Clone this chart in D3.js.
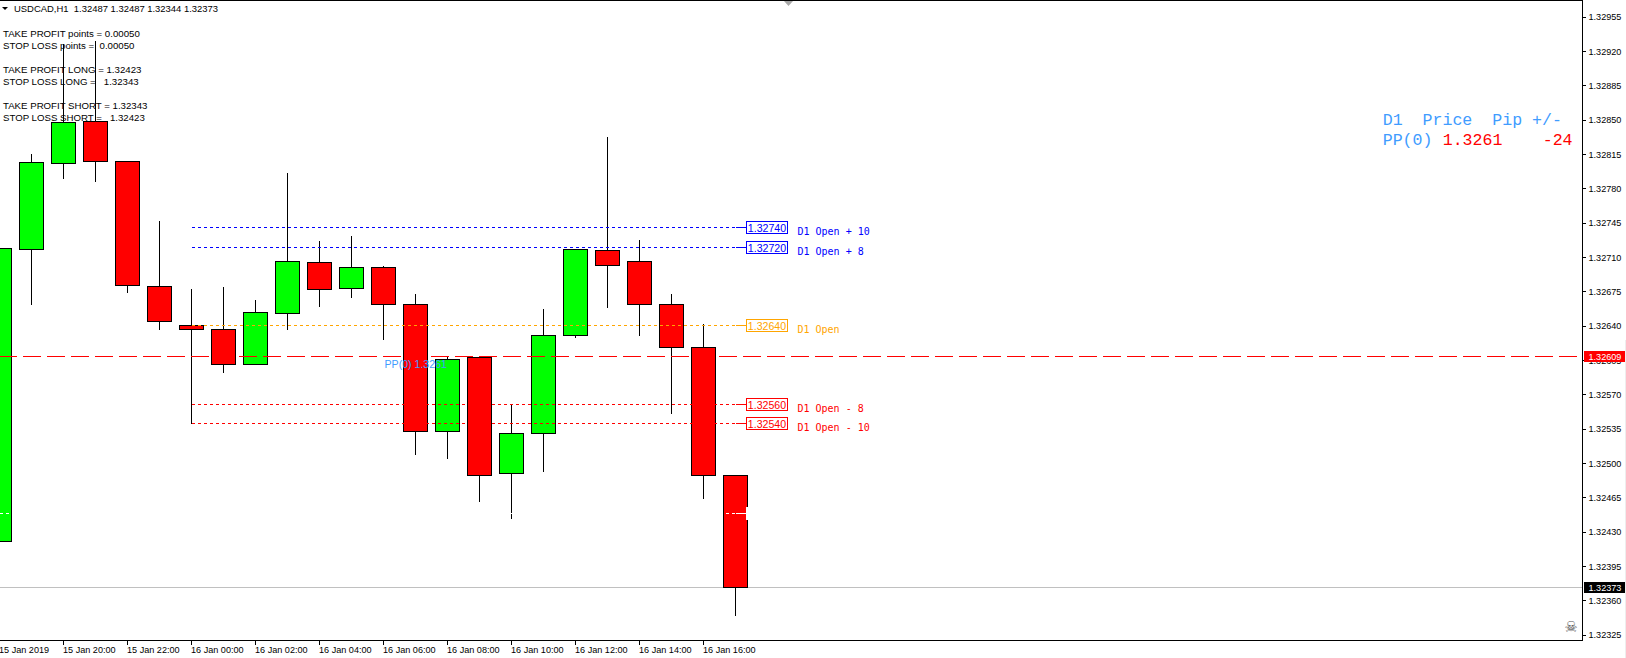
<!DOCTYPE html>
<html>
<head>
<meta charset="utf-8">
<script src="https://cdn.jsdelivr.net/npm/d3@7/dist/d3.min.js"></script>
<style>
html,body{margin:0;padding:0;background:#fff;overflow:hidden}
svg{display:block}
text{white-space:pre}
.axis path{display:none}
.axis line{stroke:#000;shape-rendering:crispEdges}
.axis text{font-family:"Liberation Sans",sans-serif;font-size:9.1px;fill:#000}
</style>
</head>
<body>
<svg id="c" width="1626" height="658"></svg>
<script>
// ---- data ----
const times = ["15 Jan 18:00","15 Jan 19:00","15 Jan 20:00","15 Jan 21:00","15 Jan 22:00","15 Jan 23:00",
  "16 Jan 00:00","16 Jan 01:00","16 Jan 02:00","16 Jan 03:00","16 Jan 04:00","16 Jan 05:00",
  "16 Jan 06:00","16 Jan 07:00","16 Jan 08:00","16 Jan 09:00","16 Jan 10:00","16 Jan 11:00",
  "16 Jan 12:00","16 Jan 13:00","16 Jan 14:00","16 Jan 15:00","16 Jan 16:00","16 Jan 17:00"];
const opens  = [1.32420,1.32718,1.32805,1.32848,1.32807,1.32680,1.32640,1.32636,1.32600,1.32652,1.32704,1.32678,
                1.32699,1.32661,1.32532,1.32607,1.32489,1.32530,1.32630,1.32717,1.32705,1.32662,1.32618,1.32487];
const highs  = [1.32719,1.32815,1.32928,1.32931,1.32807,1.32747,1.32678,1.32680,1.32667,1.32796,1.32727,1.32732,
                1.32701,1.32673,1.32609,1.32610,1.32561,1.32657,1.32718,1.32833,1.32728,1.32673,1.32642,1.32487];
const lows   = [1.32420,1.32661,1.32790,1.32787,1.32674,1.32636,1.32540,1.32592,1.32600,1.32636,1.32659,1.32669,
                1.32626,1.32509,1.32505,1.32461,1.32443,1.32491,1.32628,1.32658,1.32630,1.32550,1.32464,1.32344];
const closes = [1.32719,1.32806,1.32847,1.32807,1.32681,1.32644,1.32636,1.32600,1.32653,1.32705,1.32677,1.32699,
                1.32662,1.32532,1.32605,1.32487,1.32530,1.32630,1.32718,1.32701,1.32662,1.32618,1.32487,1.32373];
const priceTicks = [1.32955,1.32920,1.32885,1.32850,1.32815,1.32780,1.32745,1.32710,1.32675,1.32640,
                    1.32605,1.32570,1.32535,1.32500,1.32465,1.32430,1.32395,1.32360,1.32325];
const timeTicks = ["15 Jan 18:00","15 Jan 20:00","15 Jan 22:00","16 Jan 00:00","16 Jan 02:00","16 Jan 04:00",
                   "16 Jan 06:00","16 Jan 08:00","16 Jan 10:00","16 Jan 12:00","16 Jan 14:00","16 Jan 16:00"];
const timeTickLabels = ["15 Jan 2019","15 Jan 20:00","15 Jan 22:00","16 Jan 00:00","16 Jan 02:00","16 Jan 04:00",
                   "16 Jan 06:00","16 Jan 08:00","16 Jan 10:00","16 Jan 12:00","16 Jan 14:00","16 Jan 16:00"];
const levelPrices = [1.32740,1.32720,1.32640,1.32560,1.32540];
const levelNames  = ["D1 Open + 10","D1 Open + 8","D1 Open","D1 Open - 8","D1 Open - 10"];
const pivotPrice = 1.32609;
const lastPrice = 1.32373;
const hiddenLevel = 1.32448;
const levelStart = "16 Jan 00:00";
const levelEnd = "16 Jan 17:00";
const headerText = "USDCAD,H1  1.32487 1.32487 1.32344 1.32373";
const noteLines = ["TAKE PROFIT points = 0.00050","STOP LOSS points =  0.00050","",
  "TAKE PROFIT LONG = 1.32423","STOP LOSS LONG =   1.32343","",
  "TAKE PROFIT SHORT = 1.32343","STOP LOSS SHORT =   1.32423"];
const panelHeader = "D1  Price  Pip +/-";
const panelName = "PP(0)";
const panelPrice = "1.3261";
const panelPips = "-24";
const pivotTag = "PP(0) 1.3261";

// ---- styles and layout ----
const levelColor = ["#0000ff","#0000ff","#ffa500","#ff0000","#ff0000"];
const UP="#00ff00", DOWN="#ff0000", BLUE="#3f9cff";
const UI='"Liberation Sans",sans-serif', MONO='"DejaVu Sans Mono",monospace';
const frameRight=1582.5, frameBottom=640.5;
const svg=d3.select("#c");

const x=d3.scalePoint().domain(times).range([-0.5,735.5]);
const y=d3.scaleLinear().domain([1.32955,1.32325]).range([16.6,634.6]);
const py=v=>Math.round(y(v)-0.5)+0.5;
const halfBody=12;

const candles=times.map((t,i)=>({t,o:opens[i],h:highs[i],l:lows[i],c:closes[i]}));

const line=(sel,x1,x2,yy,color,dash)=>sel.append("line").attr("x1",x1).attr("x2",x2).attr("y1",yy).attr("y2",yy)
   .attr("stroke",color).attr("stroke-width",1).attr("stroke-dasharray",dash||null).attr("shape-rendering","crispEdges");

line(svg,0,frameRight,py(lastPrice),"#c0c0c0");

const g=svg.append("g").attr("shape-rendering","crispEdges");
g.selectAll("line.wick").data(candles).join("line").attr("class","wick")
  .attr("x1",d=>x(d.t)).attr("x2",d=>x(d.t)).attr("y1",d=>py(d.h)).attr("y2",d=>py(d.l)+0.5)
  .attr("stroke","#000");
g.selectAll("rect.body").data(candles).join("rect").attr("class","body")
  .attr("x",d=>x(d.t)-halfBody).attr("width",halfBody*2)
  .attr("y",d=>py(Math.max(d.o,d.c))).attr("height",d=>py(Math.min(d.o,d.c))-py(Math.max(d.o,d.c)))
  .attr("fill",d=>d.c>=d.o?UP:DOWN).attr("stroke","#000");

line(svg,0,x(levelEnd),py(hiddenLevel),"#fff","3,3");
line(svg,x(levelEnd),746.5,py(hiddenLevel),"#fff");
svg.append("rect").attr("x",746.5).attr("width",41).attr("y",py(hiddenLevel)-6).attr("height",12)
   .attr("fill","#fff").attr("stroke","#fff").attr("shape-rendering","crispEdges");

line(svg,-1,frameRight,py(pivotPrice),"#ff0000","18,6");

levelPrices.forEach((p,i)=>{
  const c=levelColor[i], yy=py(p);
  line(svg,x(levelStart),x(levelEnd),yy,c,"3,3");
  line(svg,x(levelEnd),746.5,yy,c);
  svg.append("rect").attr("x",746.5).attr("y",yy-6).attr("width",41).attr("height",12)
     .attr("fill","#fff").attr("stroke",c).attr("shape-rendering","crispEdges");
  svg.append("text").attr("x",767).attr("y",yy+0.5).attr("text-anchor","middle").attr("dominant-baseline","central")
     .attr("font-family",UI).attr("font-size",10.6).attr("fill",c).text(d3.format(".5f")(p));
  svg.append("text").attr("x",797.5).attr("y",yy+3.5).attr("dominant-baseline","central")
     .attr("font-family",MONO).attr("font-size",10).attr("fill",c).text(levelNames[i]);
});

svg.append("text").attr("x",384.5).attr("y",363.5).attr("dominant-baseline","central")
   .attr("font-family",UI).attr("font-size",10.6).attr("fill",BLUE).text(pivotTag);

line(svg,0,frameRight+0.5,0.5,"#000");
line(svg,0,frameRight+0.5,frameBottom,"#000");
svg.append("line").attr("x1",frameRight).attr("x2",frameRight).attr("y1",0).attr("y2",frameBottom+0.5)
   .attr("stroke","#000").attr("shape-rendering","crispEdges");

const yAxis=d3.axisRight(y).tickValues(priceTicks).tickFormat(d3.format(".5f")).tickSize(3).tickPadding(3).offset(0.5);
const ya=svg.append("g").attr("class","axis").attr("transform",`translate(${frameRight},0)`).call(yAxis);
ya.selectAll("text").attr("font-size",null).attr("dy","0.34em");

const xAxis=d3.axisBottom(x).tickValues(timeTicks).tickFormat(d=>timeTickLabels[timeTicks.indexOf(d)]).tickSize(4).tickPadding(2.5).offset(0);
const xa=svg.append("g").attr("class","axis").attr("transform",`translate(0,${frameBottom})`).call(xAxis);
xa.selectAll("text").attr("text-anchor","start").attr("x",-0.5).attr("dy","0.71em");

[[pivotPrice,"#ff0000"],[lastPrice,"#000"]].forEach(([p,c])=>{
  const yy=py(p);
  svg.append("rect").attr("x",1584).attr("y",yy-5.5).attr("width",41).attr("height",11).attr("fill",c);
  svg.append("text").attr("x",1588.5).attr("y",yy+0.2).attr("dominant-baseline","central")
     .attr("font-family",UI).attr("font-size",9.1).attr("fill","#fff").text(d3.format(".5f")(p));
});

svg.append("path").attr("d",d3.line()([[2,7],[8,7],[5,10]])+"Z").attr("fill","#000");
svg.append("text").attr("x",14).attr("y",8.3).attr("dominant-baseline","central")
   .attr("font-family",UI).attr("font-size",9.45).attr("fill","#000").text(headerText);
noteLines.forEach((s,i)=>{
  svg.append("text").attr("x",3).attr("y",33.5+i*12).attr("dominant-baseline","central")
     .attr("font-family",UI).attr("font-size",9.67).attr("fill","#000").text(s);
});

const panel=(s,x0,yy,c)=>svg.append("text").attr("x",x0).attr("y",yy).attr("dominant-baseline","central")
   .attr("font-family",'"Liberation Mono",monospace').attr("font-size",16.6).attr("fill",c).text(s);
panel(panelHeader,1382.7,120.5,BLUE);
panel(panelName,1382.7,140.5,BLUE);
panel(panelPrice,1442.7,140.5,"#ff0000");
panel(panelPips,1542.7,140.5,"#ff0000");

svg.append("path").attr("d",d3.line()([[784,1],[793,1],[788.5,6]])+"Z").attr("fill","#a8a8a8");
svg.append("text").attr("x",1571).attr("y",626.5).attr("text-anchor","middle").attr("dominant-baseline","central")
   .attr("font-family",'"DejaVu Sans",sans-serif').attr("font-size",15).attr("fill","#555555").text("☠");
svg.append("rect").attr("x",1625).attr("y",340).attr("width",1).attr("height",318).attr("fill","#eeeeee");
</script>
</body>
</html>
